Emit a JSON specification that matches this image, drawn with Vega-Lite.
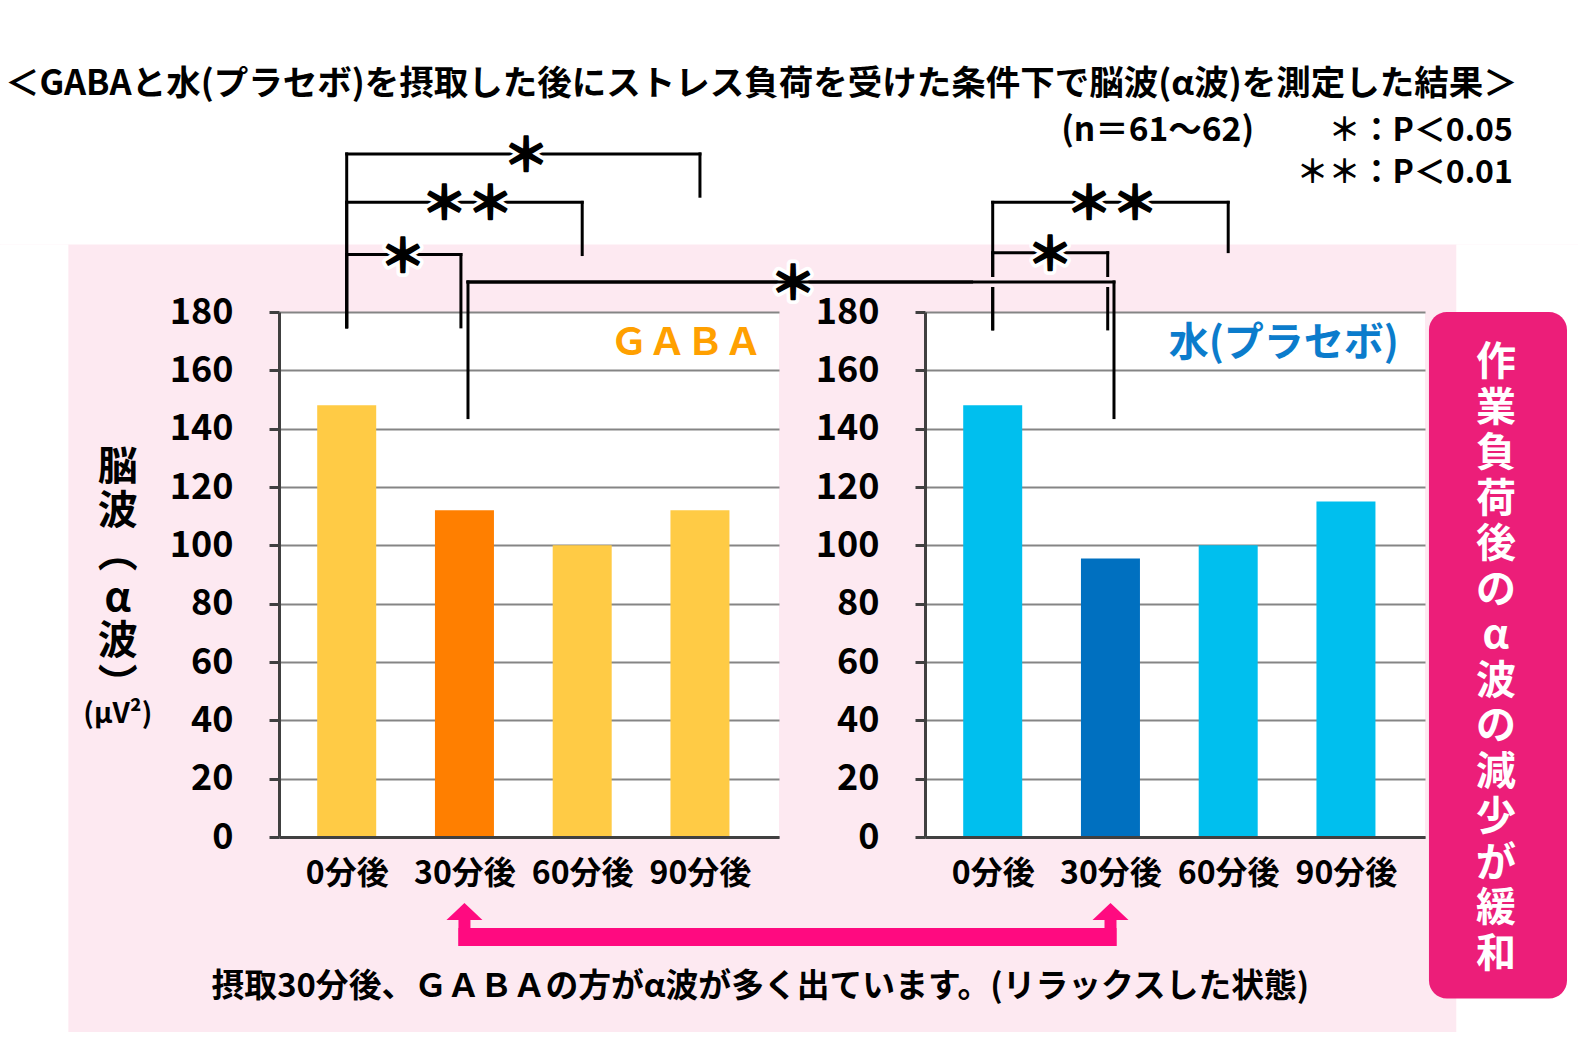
{
  "$schema": "https://vega.github.io/schema/vega-lite/v6.json",
  "background": "#fde9f1",
  "padding": 0,
  "autosize": {"type": "pad"},
  "spacing": 146,
  "bounds": "flush",
  "config": {
    "font": "Noto Sans CJK JP",
    "view": {"stroke": null, "fill": "white"}
  },
  "datasets": {
    "bars": [
      {"drink": "GABA", "minute": 0, "alpha": 148},
      {"drink": "GABA", "minute": 30, "alpha": 112},
      {"drink": "GABA", "minute": 60, "alpha": 100},
      {"drink": "GABA", "minute": 90, "alpha": 112},
      {"drink": "水（プラセボ）", "minute": 0, "alpha": 148},
      {"drink": "水（プラセボ）", "minute": 30, "alpha": 95.5},
      {"drink": "水（プラセボ）", "minute": 60, "alpha": 100},
      {"drink": "水（プラセボ）", "minute": 90, "alpha": 115}
    ],
    "sigGABA": [
      {"from": 0, "to": 90, "mid": 45.7, "level": 234.2, "fromEnd": 174.9, "toEnd": 219.7, "sig": "＊"},
      {"from": 0, "to": 60, "mid": 30.7, "level": 217.6, "fromEnd": 174.9, "toEnd": 199.7, "sig": "＊＊"},
      {"from": 0, "to": 29.1, "mid": 14.3, "level": 199.7, "fromEnd": 174.9, "toEnd": 174.9, "sig": "＊"},
      {"from": 30.9, "to": 195.5, "mid": 113.7, "level": 190.3, "fromEnd": 143.8, "toEnd": 190.3, "sig": "＊"}
    ],
    "sigWater": [
      {"from": 0, "to": 60, "mid": 30.4, "level": 217.6, "fromEnd": 174.2, "toEnd": 200.7, "sig": "＊＊"},
      {"from": 0, "to": 29.3, "mid": 14.6, "level": 200.3, "fromEnd": 174.2, "toEnd": 174.2, "sig": "＊"}
    ]
  },
  "hconcat": [
    {
      "width": 500,
      "height": 525,
      "layer": [
        {
          "data": {"name": "bars"},
          "transform": [{"filter": "datum.drink === 'GABA'"}],
          "mark": {"type": "bar", "width": 59, "clip": false},
          "encoding": {
            "x": {"field": "minute", "type": "quantitative", "scale": {"domain": [-17.25, 110.14], "nice": false, "zero": false, "padding": 0},
                  "axis": {"values": [0, 30, 60, 90], "labelExpr": "datum.value + '分後'", "ticks": false, "grid": false, "domainColor": "#404040", "domainWidth": 3, "labelFontSize": 32, "labelFontWeight": "bold", "labelColor": "black", "labelPadding": 21, "labelFlush": false, "labelOverlap": false, "title": null, "zindex": 1}},
            "y": {"field": "alpha", "type": "quantitative", "scale": {"domain": [0, 180], "nice": false, "padding": 0},
                  "axis": {"values": [0, 20, 40, 60, 80, 100, 120, 140, 160, 180], "grid": true, "gridColor": "#858585", "gridWidth": 2, "domainColor": "#404040", "domainWidth": 3, "tickColor": "#404040", "tickWidth": 3, "tickSize": 10, "labelFontSize": 36, "labelFontWeight": "bold", "labelColor": "black", "labelPadding": 36, "title": null}},
            "color": {"condition": {"test": "datum.minute === 30", "value": "#ff7f00"}, "value": "#ffcb45"}
          }
        },
        {"data": {"values": [{}]}, "mark": {"type": "rect", "fill": "white", "clip": false},
         "encoding": {"x": {"datum": -88.33, "type": "quantitative", "title": null}, "x2": {"datum": 313.71}, "y": {"datum": 286.97, "type": "quantitative", "title": null}, "y2": {"datum": 203.11}}},
        {"data": {"values": [{}]}, "mark": {"type": "rect", "fill": "white", "clip": false},
         "encoding": {"x": {"datum": -88.33, "type": "quantitative", "title": null}, "x2": {"datum": 313.71}, "y": {"datum": -66.82, "type": "quantitative", "title": null}, "y2": {"datum": -75.77}}},
        {"data": {"values": [{}]}, "mark": {"type": "rect", "fill": "white", "clip": false},
         "encoding": {"x": {"datum": -88.33, "type": "quantitative", "title": null}, "x2": {"datum": -70.91}, "y": {"datum": 203.11, "type": "quantitative", "title": null}, "y2": {"datum": -66.82}}},
        {"data": {"values": [{}]}, "mark": {"type": "rect", "fill": "white", "clip": false},
         "encoding": {"x": {"datum": 282.7, "type": "quantitative", "title": null}, "x2": {"datum": 313.71}, "y": {"datum": 203.11, "type": "quantitative", "title": null}, "y2": {"datum": -66.82}}},
        {
          "data": {"name": "sigGABA"},
          "layer": [
            {"mark": {"type": "rule", "color": "black", "strokeWidth": 3, "strokeCap": "square", "clip": false},
             "encoding": {"x": {"field": "from", "type": "quantitative", "title": null}, "x2": {"field": "to"}, "y": {"field": "level", "type": "quantitative", "title": null}}},
            {"mark": {"type": "rule", "color": "black", "strokeWidth": 3, "strokeCap": "square", "clip": false},
             "encoding": {"x": {"field": "from", "type": "quantitative", "title": null}, "y": {"field": "level", "type": "quantitative", "title": null}, "y2": {"field": "fromEnd"}}},
            {"mark": {"type": "rule", "color": "black", "strokeWidth": 3, "strokeCap": "square", "clip": false},
             "encoding": {"x": {"field": "to", "type": "quantitative", "title": null}, "y": {"field": "level", "type": "quantitative", "title": null}, "y2": {"field": "toEnd"}}},
            {"mark": {"type": "text", "fontSize": 46, "fontWeight": "bold", "color": "white", "stroke": "white", "strokeWidth": 9, "strokeJoin": "round", "baseline": "middle", "align": "center", "dy": 3, "clip": false},
             "encoding": {"x": {"field": "mid", "type": "quantitative", "title": null}, "y": {"field": "level", "type": "quantitative", "title": null}, "text": {"field": "sig"}}},
            {"mark": {"type": "text", "fontSize": 46, "fontWeight": "bold", "color": "black", "stroke": "black", "strokeWidth": 1.6, "strokeJoin": "round", "baseline": "middle", "align": "center", "dy": 3, "clip": false},
             "encoding": {"x": {"field": "mid", "type": "quantitative", "title": null}, "y": {"field": "level", "type": "quantitative", "title": null}, "text": {"field": "sig"}}}
          ]
        },
        {"data": {"values": [{}]}, "mark": {"type": "text", "text": "ＧＡＢＡ", "fontSize": 38, "fontWeight": "bold", "color": "#ffa000", "align": "right", "baseline": "middle", "clip": false},
         "encoding": {"x": {"datum": 105.8, "type": "quantitative", "title": null}, "y": {"datum": 169, "type": "quantitative", "title": null}}},
        {"data": {"values": [{}]}, "mark": {"type": "text", "fontSize": 40, "fontWeight": "bold", "color": "black", "align": "center", "baseline": "middle", "lineHeight": 43.6, "clip": false},
         "encoding": {"x": {"datum": -58.32, "type": "quantitative", "title": null}, "y": {"datum": 126.5, "type": "quantitative", "title": null}, "text": {"value": ["脳", "波", "︵", "α", "波", "︶"]}}},
        {"data": {"values": [{}]}, "mark": {"type": "text", "text": "(μV²)", "fontSize": 28, "fontWeight": "bold", "color": "black", "align": "center", "baseline": "middle", "clip": false},
         "encoding": {"x": {"datum": -58.32, "type": "quantitative", "title": null}, "y": {"datum": 41.93, "type": "quantitative", "title": null}}},
        {"data": {"values": [{}]}, "mark": {"type": "text", "text": "＜GABAと水(プラセボ)を摂取した後にストレス負荷を受けた条件下で脳波(α波)を測定した結果＞", "fontSize": 34.5, "fontWeight": "bold", "color": "black", "align": "left", "baseline": "middle", "clip": false},
         "encoding": {"x": {"datum": -87.06, "type": "quantitative", "title": null}, "y": {"datum": 258.0, "type": "quantitative", "title": null}}},
        {"data": {"values": [{}]}, "mark": {"type": "text", "text": "(n＝61～62)", "fontSize": 33.5, "fontWeight": "bold", "color": "black", "align": "center", "baseline": "middle", "clip": false},
         "encoding": {"x": {"datum": 206.6, "type": "quantitative", "title": null}, "y": {"datum": 242.06, "type": "quantitative", "title": null}}},
        {"data": {"values": [{}]}, "mark": {"type": "text", "text": "＊：P＜0.05", "fontSize": 32, "fontWeight": "bold", "color": "black", "align": "right", "baseline": "middle", "clip": false},
         "encoding": {"x": {"datum": 297.1, "type": "quantitative", "title": null}, "y": {"datum": 242.06, "type": "quantitative", "title": null}}},
        {"data": {"values": [{}]}, "mark": {"type": "text", "text": "＊＊：P＜0.01", "fontSize": 32, "fontWeight": "bold", "color": "black", "align": "right", "baseline": "middle", "clip": false},
         "encoding": {"x": {"datum": 297.1, "type": "quantitative", "title": null}, "y": {"datum": 227.7, "type": "quantitative", "title": null}}},
        {"data": {"values": [{}]}, "mark": {"type": "rule", "color": "#ff0a80", "strokeWidth": 12, "clip": false},
         "encoding": {"x": {"datum": 30, "type": "quantitative", "title": null}, "y": {"datum": -28.46, "type": "quantitative", "title": null}, "y2": {"datum": -37.37}}},
        {"data": {"values": [{}]}, "mark": {"type": "rule", "color": "#ff0a80", "strokeWidth": 12, "clip": false},
         "encoding": {"x": {"datum": 194.6, "type": "quantitative", "title": null}, "y": {"datum": -28.46, "type": "quantitative", "title": null}, "y2": {"datum": -37.37}}},
        {"data": {"values": [{}]}, "mark": {"type": "rule", "color": "#ff0a80", "strokeWidth": 18, "clip": false},
         "encoding": {"x": {"datum": 28.47, "type": "quantitative", "title": null}, "x2": {"datum": 196.13}, "y": {"datum": -34.29, "type": "quantitative", "title": null}}},
        {"data": {"values": [{}]}, "mark": {"type": "point", "shape": "M-1,0.47L0,-0.47L1,0.47Z", "size": 1296, "filled": true, "color": "#ff0a80", "opacity": 1, "clip": false},
         "encoding": {"x": {"datum": 30, "type": "quantitative", "title": null}, "y": {"datum": -25.54, "type": "quantitative", "title": null}}},
        {"data": {"values": [{}]}, "mark": {"type": "point", "shape": "M-1,0.47L0,-0.47L1,0.47Z", "size": 1296, "filled": true, "color": "#ff0a80", "opacity": 1, "clip": false},
         "encoding": {"x": {"datum": 194.6, "type": "quantitative", "title": null}, "y": {"datum": -25.54, "type": "quantitative", "title": null}}},
        {"data": {"values": [{}]}, "mark": {"type": "text", "text": "摂取30分後、ＧＡＢＡの方がα波が多く出ています。(リラックスした状態)", "fontSize": 32.8, "fontWeight": "bold", "color": "black", "align": "center", "baseline": "middle", "clip": false},
         "encoding": {"x": {"datum": 105.4, "type": "quantitative", "title": null}, "y": {"datum": -51.3, "type": "quantitative", "title": null}}}
      ]
    },
    {
      "width": 500,
      "height": 525,
      "layer": [
        {
          "data": {"name": "bars"},
          "transform": [{"filter": "datum.drink !== 'GABA'"}],
          "mark": {"type": "bar", "width": 59, "clip": false},
          "encoding": {
            "x": {"field": "minute", "type": "quantitative", "scale": {"domain": [-17.25, 110.14], "nice": false, "zero": false, "padding": 0},
                  "axis": {"values": [0, 30, 60, 90], "labelExpr": "datum.value + '分後'", "ticks": false, "grid": false, "domainColor": "#404040", "domainWidth": 3, "labelFontSize": 32, "labelFontWeight": "bold", "labelColor": "black", "labelPadding": 21, "labelFlush": false, "labelOverlap": false, "title": null, "zindex": 1}},
            "y": {"field": "alpha", "type": "quantitative", "scale": {"domain": [0, 180], "nice": false, "padding": 0},
                  "axis": {"values": [0, 20, 40, 60, 80, 100, 120, 140, 160, 180], "grid": true, "gridColor": "#858585", "gridWidth": 2, "domainColor": "#404040", "domainWidth": 3, "tickColor": "#404040", "tickWidth": 3, "tickSize": 10, "labelFontSize": 36, "labelFontWeight": "bold", "labelColor": "black", "labelPadding": 36, "title": null}},
            "color": {"condition": {"test": "datum.minute === 30", "value": "#0070c0"}, "value": "#00bfee"}
          }
        },
        {
          "data": {"name": "sigWater"},
          "layer": [
            {"mark": {"type": "rule", "color": "black", "strokeWidth": 3, "strokeCap": "square", "clip": false},
             "encoding": {"x": {"field": "from", "type": "quantitative", "title": null}, "x2": {"field": "to"}, "y": {"field": "level", "type": "quantitative", "title": null}}},
            {"mark": {"type": "rule", "color": "black", "strokeWidth": 3, "strokeCap": "square", "clip": false},
             "encoding": {"x": {"field": "from", "type": "quantitative", "title": null}, "y": {"field": "level", "type": "quantitative", "title": null}, "y2": {"field": "fromEnd"}}},
            {"mark": {"type": "rule", "color": "black", "strokeWidth": 3, "strokeCap": "square", "clip": false},
             "encoding": {"x": {"field": "to", "type": "quantitative", "title": null}, "y": {"field": "level", "type": "quantitative", "title": null}, "y2": {"field": "toEnd"}}}
          ]
        },
        {"data": {"values": [{}]}, "mark": {"type": "rule", "color": "#fde9f1", "strokeWidth": 10, "clip": false},
         "encoding": {"x": {"datum": -5, "type": "quantitative", "title": null}, "x2": {"datum": 33}, "y": {"datum": 190.3, "type": "quantitative", "title": null}}},
        {"data": {"values": [{}]}, "mark": {"type": "rule", "color": "black", "strokeWidth": 3, "strokeCap": "square", "clip": false},
         "encoding": {"x": {"datum": -133.69, "type": "quantitative", "title": null}, "x2": {"datum": 30.9}, "y": {"datum": 190.3, "type": "quantitative", "title": null}}},
        {"data": {"values": [{}]}, "mark": {"type": "rule", "color": "black", "strokeWidth": 3, "strokeCap": "square", "clip": false},
         "encoding": {"x": {"datum": 30.9, "type": "quantitative", "title": null}, "y": {"datum": 190.3, "type": "quantitative", "title": null}, "y2": {"datum": 143.8}}},
        {
          "data": {"name": "sigWater"},
          "layer": [
            {"mark": {"type": "text", "fontSize": 46, "fontWeight": "bold", "color": "white", "stroke": "white", "strokeWidth": 9, "strokeJoin": "round", "baseline": "middle", "align": "center", "dy": 3, "clip": false},
             "encoding": {"x": {"field": "mid", "type": "quantitative", "title": null}, "y": {"field": "level", "type": "quantitative", "title": null}, "text": {"field": "sig"}}},
            {"mark": {"type": "text", "fontSize": 46, "fontWeight": "bold", "color": "black", "stroke": "black", "strokeWidth": 1.6, "strokeJoin": "round", "baseline": "middle", "align": "center", "dy": 3, "clip": false},
             "encoding": {"x": {"field": "mid", "type": "quantitative", "title": null}, "y": {"field": "level", "type": "quantitative", "title": null}, "text": {"field": "sig"}}}
          ]
        },
        {"data": {"values": [{}]}, "mark": {"type": "text", "text": "水(プラセボ)", "fontSize": 40, "fontWeight": "bold", "color": "#0b7ccc", "align": "right", "baseline": "middle", "clip": false},
         "encoding": {"x": {"datum": 103.5, "type": "quantitative", "title": null}, "y": {"datum": 169, "type": "quantitative", "title": null}}},
        {"data": {"values": [{}]}, "mark": {"type": "rect", "fill": "#ec1e79", "cornerRadius": 18, "clip": false},
         "encoding": {"x": {"datum": 111.15, "type": "quantitative", "title": null}, "x2": {"datum": 146.32}, "y": {"datum": 180, "type": "quantitative", "title": null}, "y2": {"datum": -55.4}}},
        {"data": {"values": [{}]}, "mark": {"type": "text", "fontSize": 40, "fontWeight": "bold", "color": "white", "align": "center", "baseline": "middle", "lineHeight": 45.5, "clip": false},
         "encoding": {"x": {"datum": 128.2, "type": "quantitative", "title": null}, "y": {"datum": 162.4, "type": "quantitative", "title": null}, "text": {"value": ["作", "業", "負", "荷", "後", "の", "α", "波", "の", "減", "少", "が", "緩", "和"]}}}
      ]
    }
  ]
}
